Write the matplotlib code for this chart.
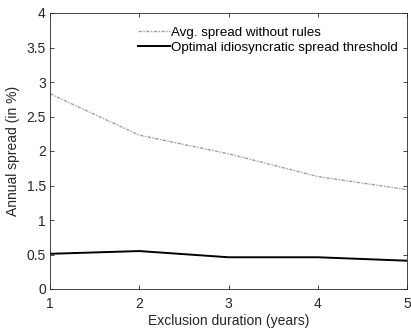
import numpy as np
import matplotlib
matplotlib.use("Agg")
import matplotlib.pyplot as plt

plt.rcParams['font.family'] = ['Liberation Sans', 'DejaVu Sans']

# Exclusion duration (years) and spreads (%)
years = [1, 2, 3, 4, 5]
avg_spread = [2.83, 2.23, 1.96, 1.63, 1.44]
optimal_threshold = [0.51, 0.55, 0.46, 0.46, 0.41]

fig = plt.figure(figsize=(4.11, 3.30), dpi=100)
ax = fig.add_axes([50 / 411, 41 / 330, 357 / 411, 276 / 330])

ax.plot(years, avg_spread, color='#a0a0a0', linestyle=(0, (2.5, 1, 1, 1)), linewidth=1.0,
        label='Avg. spread without rules')
ax.plot(years, optimal_threshold, color='black', linestyle='-', linewidth=1.4,
        label='Optimal idiosyncratic spread threshold')

ax.set_xlim(1, 5)
ax.set_ylim(0, 4)
ax.set_xticks(years)
ax.set_yticks(np.arange(0, 4.01, 0.5))
ax.set_yticklabels(['0', '0.5', '1', '1.5', '2', '2.5', '3', '3.5', '4'])
ax.tick_params(direction='in', top=True, right=True, labelsize=10, length=3,
               width=0.6, color='#262626', labelcolor='#262626', pad=3)
ax.tick_params(axis='x', pad=6)
for s in ax.spines.values():
    s.set_linewidth(0.6)
    s.set_color('#262626')

ax.set_xlabel('Exclusion duration (years)', fontsize=10, color='#262626', labelpad=2)
ax.set_ylabel('Annual spread (in %)', fontsize=10, color='#262626', labelpad=5)

ax.legend(loc='upper right', frameon=False, fontsize=9.6, handlelength=2.4,
          handletextpad=0.1, borderaxespad=0.0, labelspacing=0.2,
          bbox_to_anchor=(0.99, 0.97))

fig.savefig('out.png', dpi=100)
